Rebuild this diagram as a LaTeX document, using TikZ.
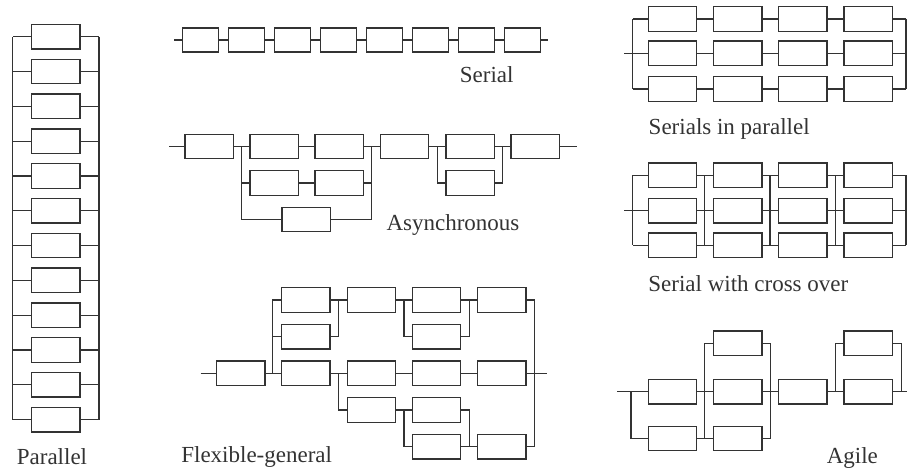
\documentclass[tikz,border=0pt]{standalone}
\usepackage{fontspec}
\setmainfont{Liberation Serif}
\definecolor{ink}{HTML}{333333}
\begin{document}
\begin{tikzpicture}[x=1pt,y=-1pt,
  blk/.style={draw=ink,line width=1.3pt,minimum width=48.3pt,minimum height=24.5pt,inner sep=0pt},
  sblk/.style={blk,minimum width=35.6pt,minimum height=24pt},
  wire/.style={draw=ink,line width=1.1pt},
  lbl/.style={font=\fontsize{23}{27}\selectfont,text=ink,inner sep=0pt,anchor=base}]
\useasboundingbox (0,0) rectangle (907,470);

% ---------- Parallel ----------
\foreach \i in {0,...,11}
  \node[blk] (p\i) at (55.85,36.8+34.8*\i) {};
\coordinate (pl0) at (12.7,36.8);  \coordinate (pl1) at (12.7,419.6);
\coordinate (pr0) at (99,36.8);    \coordinate (pr1) at (99,419.6);
\draw[wire] (pl0) -- (pl1);
\draw[wire] (pr0) -- (pr1);
\foreach \i in {0,...,11} {
  \draw[wire] (p\i.west) -- (p\i.west -| pl0);
  \draw[wire] (p\i.east) -- (p\i.east -| pr0);
}
\node[lbl] (tpar) at (52,464) {Parallel};

% ---------- Serial ----------
\foreach \i in {0,...,7}
  \node[sblk] (s\i) at (200.5+46*\i,40) {};
\coordinate (sin) at (174,40);
\coordinate (sout) at (548.3,40);
\draw[wire] (sin) -- (s0.west);
\foreach \i [evaluate=\i as \j using int(\i+1)] in {0,...,6}
  \draw[wire] (s\i.east) -- (s\j.west);
\draw[wire] (s7.east) -- (sout);
\node[lbl] (tser) at (486.7,83) {Serial};

% ---------- Asynchronous ----------
\node[blk] (aA)  at (209.2,146.5) {};
\node[blk] (aB1) at (274.2,146.5) {};
\node[blk] (aB2) at (339.2,146.5) {};
\node[blk] (aB3) at (274.2,183) {};
\node[blk] (aB4) at (339.2,183) {};
\node[blk] (aB5) at (306.2,219.5) {};
\node[blk] (aC)  at (404.5,146.5) {};
\node[blk] (aD1) at (470.2,146.5) {};
\node[blk] (aD2) at (470.2,183) {};
\node[blk] (aE)  at (535.2,146.5) {};
\coordinate (ain)  at (169,146.5);
\coordinate (aout) at (576.7,146.5);
\coordinate (aj1)  at (241.7,146.5);  \coordinate (aj1b) at (241.7,219.5);
\coordinate (aj2)  at (371.7,146.5);  \coordinate (aj2b) at (371.7,219.5);
\coordinate (aj3)  at (437.3,146.5);  \coordinate (aj3b) at (437.3,183);
\coordinate (aj4)  at (502.7,146.5);  \coordinate (aj4b) at (502.7,183);
\draw[wire] (ain) -- (aA.west);
\draw[wire] (aA.east) -- (aB1.west);
\draw[wire] (aj1) -- (aj1b) -- (aB5.west);
\draw[wire] (aB3.west) -- (aB3.west -| aj1);
\draw[wire] (aB1.east) -- (aB2.west);
\draw[wire] (aB3.east) -- (aB4.west);
\draw[wire] (aB2.east) -- (aC.west);
\draw[wire] (aj2) -- (aj2b) -- (aB5.east);
\draw[wire] (aB4.east) -- (aB4.east -| aj2);
\draw[wire] (aC.east) -- (aD1.west);
\draw[wire] (aj3) -- (aj3b) -- (aD2.west);
\draw[wire] (aD1.east) -- (aE.west);
\draw[wire] (aD2.east) -- (aj4b) -- (aj4);
\draw[wire] (aE.east) -- (aout);
\node[lbl] (tasy) at (453,231) {Asynchronous};

% ---------- Flexible-general ----------
\node[blk] (fF)  at (240.8,373.3) {};
\node[blk] (fT1) at (305.8,300) {};
\node[blk] (fT2) at (371.5,300) {};
\node[blk] (fT3) at (436.5,300) {};
\node[blk] (fT4) at (501.8,300) {};
\node[blk] (fR1) at (305.8,336.7) {};
\node[blk] (fR3) at (436.5,336.7) {};
\node[blk] (fM1) at (305.8,373.3) {};
\node[blk] (fM2) at (371.5,373.3) {};
\node[blk] (fM3) at (436.5,373.3) {};
\node[blk] (fM4) at (501.8,373.3) {};
\node[blk] (fL1) at (371.5,410) {};
\node[blk] (fL2) at (436.5,410) {};
\node[blk] (fL3) at (436.5,446.7) {};
\node[blk] (fL4) at (501.8,446.7) {};
\coordinate (fin)  at (200.7,373.3);
\coordinate (fout) at (546.7,373.3);
\coordinate (fj1t) at (272.7,300);   \coordinate (fj1b) at (272.7,373.3);
\coordinate (fa) at (338.3,300);     \coordinate (fb) at (338.3,336.7);
\coordinate (fc) at (404,300);       \coordinate (fd) at (404,336.7);
\coordinate (fe) at (469.3,300);     \coordinate (ff) at (469.3,336.7);
\coordinate (fg) at (534.3,300);     \coordinate (fh) at (534.3,446.7);
\coordinate (fi) at (338.3,373.3);   \coordinate (fk) at (338.3,410);
\coordinate (fl) at (404,410);       \coordinate (fm) at (404,446.7);
\coordinate (fn) at (469.3,410);     \coordinate (fo) at (469.3,446.7);
\draw[wire] (fin) -- (fF.west);
\draw[wire] (fF.east) -- (fM1.west);
\draw[wire] (fj1b) -- (fj1t) -- (fT1.west);
\draw[wire] (fR1.west) -- (fR1.west -| fj1t);
\draw[wire] (fT1.east) -- (fT2.west);
\draw[wire] (fR1.east) -- (fb) -- (fa);
\draw[wire] (fT2.east) -- (fT3.west);
\draw[wire] (fc) -- (fd) -- (fR3.west);
\draw[wire] (fT3.east) -- (fT4.west);
\draw[wire] (fR3.east) -- (ff) -- (fe);
\draw[wire] (fT4.east) -- (fg) -- (fh) -- (fL4.east);
\draw[wire] (fM1.east) -- (fM2.west);
\draw[wire] (fi) -- (fk) -- (fL1.west);
\draw[wire] (fM2.east) -- (fM3.west);
\draw[wire] (fM3.east) -- (fM4.west);
\draw[wire] (fM4.east) -- (fout);
\draw[wire] (fL1.east) -- (fL2.west);
\draw[wire] (fl) -- (fm) -- (fL3.west);
\draw[wire] (fL2.east) -- (fn) -- (fo);
\draw[wire] (fL3.east) -- (fL4.west);
\node[lbl] (tflex) at (256.7,462) {Flexible-general};

% ---------- Serials in parallel ----------
\foreach \r/\y in {1/19,2/53.3,3/89}
  \foreach \c/\x in {1/672.5,2/737.7,3/802.8,4/868.2}
    \node[blk] (q\r\c) at (\x,\y) {};
\coordinate (qin) at (624,53.3);
\coordinate (ql0) at (632.7,19);  \coordinate (ql1) at (632.7,89);
\coordinate (qr0) at (906,19);    \coordinate (qr1) at (906,89);
\draw[wire] (ql0) -- (ql1);
\draw[wire] (qr0) -- (qr1);
\draw[wire] (qin) -- (qin -| ql0);
\foreach \r in {1,2,3} {
  \draw[wire] (q\r1.west) -- (q\r1.west -| ql0);
  \draw[wire] (q\r1.east) -- (q\r2.west);
  \draw[wire] (q\r2.east) -- (q\r3.west);
  \draw[wire] (q\r3.east) -- (q\r4.west);
  \draw[wire] (q\r4.east) -- (q\r4.east -| qr0);
}
\node[lbl] (tsip) at (729.2,134.5) {Serials in parallel};

% ---------- Serial with cross over ----------
\foreach \r/\y in {1/175.3,2/210.7,3/245.3}
  \foreach \c/\x in {1/672.5,2/737.7,3/802.8,4/868.2}
    \node[blk] (x\r\c) at (\x,\y) {};
\coordinate (xin) at (624,210.7);
\foreach \k/\bx in {0/632.7,1/704.3,2/770,3/835.7,4/906} {
  \coordinate (xb\k t) at (\bx,175.3);
  \coordinate (xb\k b) at (\bx,245.3);
  \draw[wire] (xb\k t) -- (xb\k b);
}
\draw[wire] (xin) -- (xin -| xb0t);
\foreach \r in {1,2,3} {
  \draw[wire] (x\r1.west) -- (x\r1.west -| xb0t);
  \draw[wire] (x\r1.east) -- (x\r2.west);
  \draw[wire] (x\r2.east) -- (x\r3.west);
  \draw[wire] (x\r3.east) -- (x\r4.west);
  \draw[wire] (x\r4.east) -- (x\r4.east -| xb4t);
}
\node[lbl] (tsco) at (748.3,291) {Serial with cross over};

% ---------- Agile ----------
\node[blk] (gA1) at (672.5,391.7) {};
\node[blk] (gA2) at (672.5,438.5) {};
\node[blk] (gB1) at (737.7,343.3) {};
\node[blk] (gB2) at (737.7,391.7) {};
\node[blk] (gB3) at (737.7,438.5) {};
\node[blk] (gC)  at (802.8,391.7) {};
\node[blk] (gD1) at (868.2,343.3) {};
\node[blk] (gD2) at (868.2,391.7) {};
\coordinate (gin)  at (617.3,391.7);
\coordinate (gout) at (907,391.7);
\coordinate (g0t) at (631,391.7);    \coordinate (g0b) at (631,438.5);
\coordinate (g1t) at (704.3,343.3);  \coordinate (g1b) at (704.3,438.5);
\coordinate (g2t) at (770.7,343.3);  \coordinate (g2b) at (770.7,438.5);
\coordinate (g3t) at (835.7,343.3);  \coordinate (g3b) at (835.7,391.7);
\coordinate (g4t) at (901.7,343.3);  \coordinate (g4b) at (901.7,391.7);
\draw[wire] (gin) -- (gA1.west);
\draw[wire] (g0t) -- (g0b) -- (gA2.west);
\draw[wire] (gA1.east) -- (gB2.west);
\draw[wire] (gA2.east) -- (gB3.west);
\draw[wire] (g1b) -- (g1t) -- (gB1.west);
\draw[wire] (gB1.east) -- (g2t) -- (g2b) -- (gB3.east);
\draw[wire] (gB2.east) -- (gC.west);
\draw[wire] (gC.east) -- (gD2.west);
\draw[wire] (g3b) -- (g3t) -- (gD1.west);
\draw[wire] (gD1.east) -- (g4t) -- (g4b);
\draw[wire] (gD2.east) -- (gout);
\node[lbl] (tagi) at (852.3,463.3) {Agile};
\end{tikzpicture}
\end{document}
